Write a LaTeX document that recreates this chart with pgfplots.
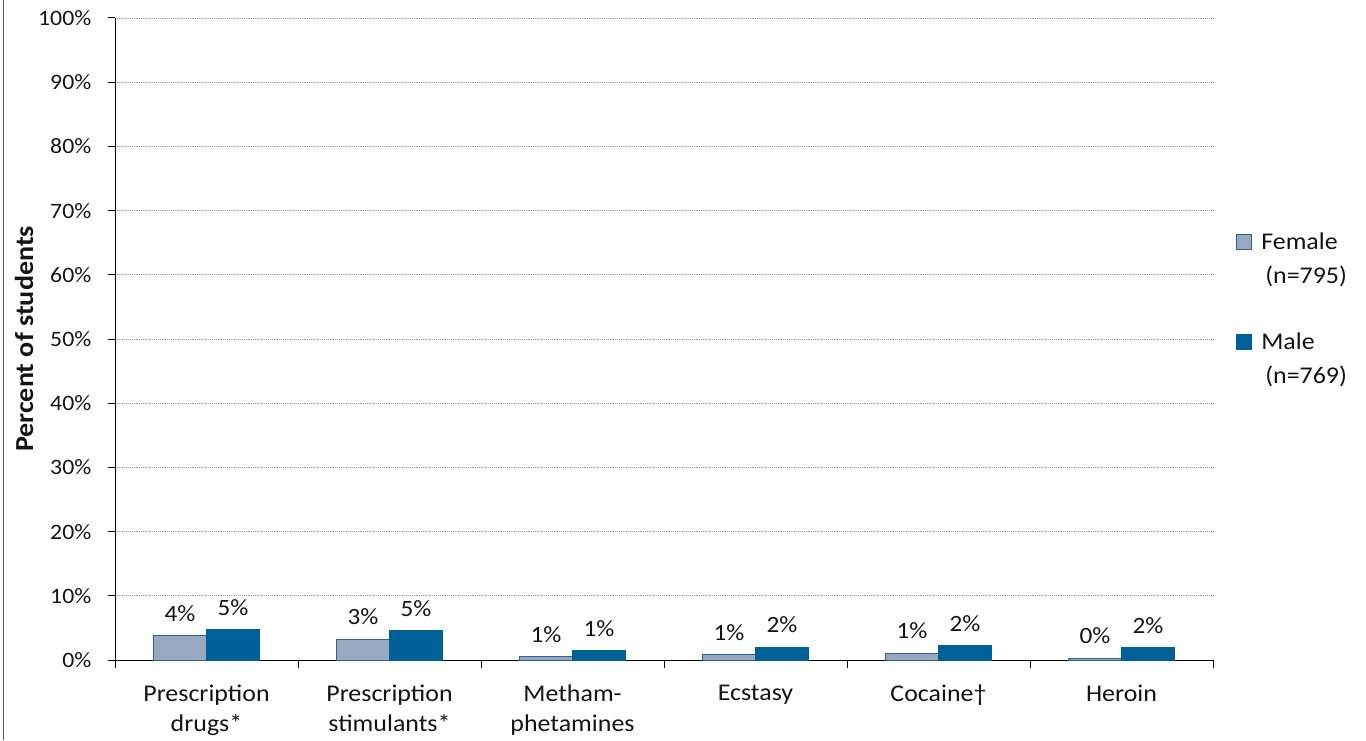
\documentclass[border=0pt]{standalone}
\usepackage{pgfplots}
\pgfplotsset{compat=1.18}
\usepackage{fontspec}
\setmainfont{Carlito}[FakeStretch=1.08]
\definecolor{fem}{RGB}{151,168,192}
\definecolor{femb}{RGB}{40,100,150}
\definecolor{mal}{RGB}{0,96,152}
\definecolor{txt}{RGB}{20,20,20}
\begin{document}
\begin{tikzpicture}
\useasboundingbox (0,0) rectangle (1024.5pt,555pt);
\draw[gray!70!black, line width=0.75pt] (2.25pt,0) -- (2.25pt,555pt);
\begin{axis}[
  at={(86.25pt,60pt)}, anchor=south west,
  scale only axis, width=823.5pt, height=481.5pt,
  xmin=-0.5, xmax=5.5, ymin=0, ymax=100,
  ybar=0pt, bar width=39.75pt,
  axis x line=bottom, axis y line=left,
  axis line style={-, black, line width=0.75pt},
  ytick={0,10,...,100},
  yticklabels={0\%,10\%,20\%,30\%,40\%,50\%,60\%,70\%,80\%,90\%,100\%},
  yticklabel style={font=\fontsize{16.5}{20}\selectfont, text=txt, xshift=-9pt},
  ymajorgrids,
  major grid style={densely dotted, gray!80, line width=0.6pt},
  tick align=outside,
  major tick length=5.25pt,
  tick style={black, line width=0.75pt},
  xtick={0,1,2,3,4,5},
  xticklabels={{Prescription\\drugs*},{Prescription\\stimulants*},{Metham-\\phetamines},{Ecstasy},{Cocaine†},{Heroin}},
  xticklabel style={align=center, font=\fontsize{18}{22.5}\selectfont, text=txt, yshift=-10pt},
  xtick style={draw=none},
  extra x ticks={-0.5,0.5,1.5,2.5,3.5,4.5,5.5},
  extra x tick labels={},
  extra x tick style={xtick style={draw=black}, major tick length=6pt},
  ylabel={Percent of students},
  ylabel style={at={(axis description cs:-0.0829,0.5)}, anchor=center, font=\bfseries\fontsize{19.5}{22}\selectfont, text=txt},
  legend cell align=left,
  legend style={draw=none, fill=none, at={(axis description cs:1.0210,0.6807)}, anchor=north west,
    inner sep=0pt, column sep=4.75pt, row sep=19.75pt,
    cells={anchor=base west},
    nodes={inner sep=2pt, text depth=},
    font=\fontsize{18}{25.5}\selectfont, text=txt},
  legend image code/.code={\draw[#1, line width=0.75pt] (0pt,0pt) rectangle (11.25pt,11.25pt);},
  nodes near coords,
  point meta=explicit symbolic,
  every node near coord/.append style={font=\fontsize{17.5}{20}\selectfont, text=txt, yshift=7pt},
]
\addplot[fill=fem, draw=femb, line width=0.75pt]
  coordinates {(0,3.8) [4\%] (1,3.2) [3\%] (2,0.5) [1\%] (3,0.8) [1\%] (4,1.05) [1\%] (5,0.3) [0\%]};
\addlegendentry{\begin{tabular}[t]{@{}l@{}}Female\\\hspace{3pt}(n=795)\end{tabular}}
\addplot[fill=mal, draw=mal, line width=0.75pt]
  coordinates {(0,4.7) [5\%] (1,4.6) [5\%] (2,1.45) [1\%] (3,2.0) [2\%] (4,2.2) [2\%] (5,1.9) [2\%]};
\addlegendentry{\begin{tabular}[t]{@{}l@{}}Male\\\hspace{3pt}(n=769)\end{tabular}}
\end{axis}
\end{tikzpicture}
\end{document}
